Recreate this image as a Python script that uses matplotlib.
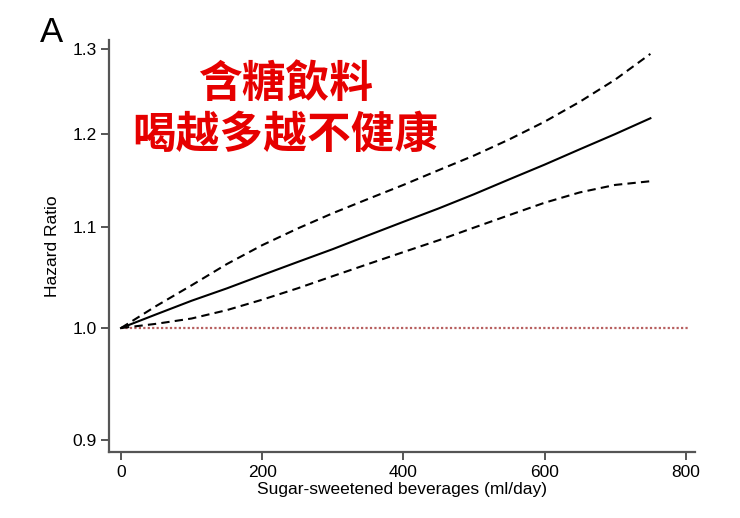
import matplotlib
matplotlib.use("Agg")
import matplotlib.pyplot as plt
from matplotlib.ticker import FixedLocator, FixedFormatter, NullLocator

# Data
x_vals = [0, 50, 100, 150, 200, 250, 300, 350, 400, 450, 500, 550, 600, 650, 700, 750]
hr_center = [1.000, 1.013, 1.026, 1.038, 1.051, 1.064, 1.077, 1.091, 1.105, 1.119,
             1.134, 1.150, 1.166, 1.183, 1.200, 1.218]
hr_upper = [1.000, 1.021, 1.041, 1.062, 1.081, 1.098, 1.114, 1.129, 1.144, 1.160,
            1.176, 1.194, 1.214, 1.237, 1.263, 1.294]
hr_lower = [1.000, 1.004, 1.009, 1.017, 1.027, 1.038, 1.050, 1.062, 1.074, 1.086,
            1.099, 1.112, 1.125, 1.136, 1.144, 1.148]
ref_x = [0, 805]
ref_y = [1.0, 1.0]
x_ticks = [0, 200, 400, 600, 800]
y_ticks = [0.9, 1.0, 1.1, 1.2, 1.3]
y_tick_labels = ["0.9", "1.0", "1.1", "1.2", "1.3"]
title_lines = ["含糖飲料", "喝越多越不健康"]

plt.rcParams['font.family'] = ['Liberation Sans', 'DejaVu Sans']

fig = plt.figure(figsize=(7.4, 5.18), dpi=100)
ax = fig.add_axes([0.1473, 0.1274, 0.939 - 0.1473, 0.9228 - 0.1274])

ax.plot(ref_x, ref_y, color='#b86060', linestyle=(0, (1, 1)), linewidth=1.6)
ax.plot(x_vals, hr_center, color='black', linewidth=1.5)
ax.plot(x_vals, hr_upper, color='black', linewidth=1.5, linestyle=(0, (4, 2.5)))
ax.plot(x_vals, hr_lower, color='black', linewidth=1.5, linestyle=(0, (4, 2.5)))

ax.set_yscale('log')
ax.set_xlim(-17, 813)
ax.set_ylim(0.890, 1.311)
ax.yaxis.set_major_locator(FixedLocator(y_ticks))
ax.yaxis.set_major_formatter(FixedFormatter(y_tick_labels))
ax.yaxis.set_minor_locator(NullLocator())
ax.set_xticks(x_ticks)

for s in ['top', 'right']:
    ax.spines[s].set_visible(False)
for s in ['left', 'bottom']:
    ax.spines[s].set_color('#555555')
    ax.spines[s].set_linewidth(1.6)
ax.tick_params(direction='out', length=6, width=1.4, color='#555555',
               labelsize=12.5, labelcolor='black', pad=3)

ax.set_xlabel("Sugar-sweetened beverages (ml/day)", fontsize=12.5, labelpad=2)
ax.set_ylabel("Hazard Ratio", fontsize=12.5, labelpad=9)

fig.text(0.069, 0.938, "A", fontsize=25, ha='center', va='center')

for i, line in enumerate(title_lines):
    fig.text(0.386, 0.838 - i * 0.099, line, fontsize=31.5, fontweight='bold',
             color='#e60000', ha='center', va='center',
             family=['Noto Sans CJK TC', 'DejaVu Sans'])

fig.savefig("out.png", dpi=100)
